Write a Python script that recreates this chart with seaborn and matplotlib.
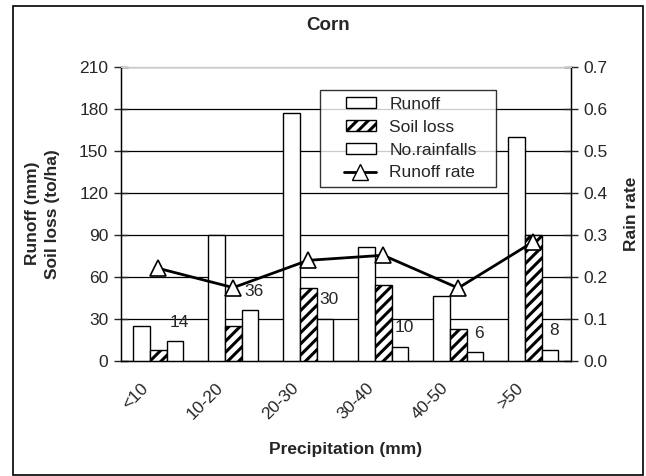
import numpy as np
import pandas as pd
import matplotlib
matplotlib.use("Agg")
import matplotlib.pyplot as plt
import matplotlib.transforms as mtransforms
from matplotlib.patches import Rectangle
from matplotlib.lines import Line2D
from matplotlib.patches import Patch
from matplotlib.legend_handler import HandlerPatch, HandlerLine2D
import seaborn as sns

categories = ["<10", "10-20", "20-30", "30-40", "40-50", ">50"]
runoff = [25, 90, 177, 81, 46, 160]
soil_loss = [8, 25, 52, 54, 23, 90]
rainfalls = [14, 36, 30, 10, 6, 8]
runoff_rate = [0.22, 0.174, 0.239, 0.251, 0.173, 0.283]
series_names = ["Runoff", "Soil loss", "No.rainfalls"]

sns.set_style("white")
plt.rcParams["font.family"] = ["Liberation Sans", "DejaVu Sans"]
plt.rcParams["hatch.linewidth"] = 2.2
plt.rcParams["hatch.color"] = "#262626"

FS = 12.5
HATCH = "///"

df = pd.DataFrame({
    "Precipitation": categories * 3,
    "value": runoff + soil_loss + rainfalls,
    "series": [s for s in series_names for _ in categories],
})

fig = plt.figure(figsize=(6.46, 4.76), dpi=100)
ax = fig.add_axes([120.7 / 646, 1 - 360.7 / 476, (570.7 - 120.7) / 646, (360.7 - 66.7) / 476])

# figure frame
fig.patches.append(Rectangle((13 / 646, 1 - 475 / 476), 630 / 646, 469 / 476,
                             transform=fig.transFigure, fill=False, edgecolor="black",
                             linewidth=1.2, zorder=0))

sns.barplot(data=df, x="Precipitation", y="value", hue="series", order=categories,
            hue_order=series_names, palette=["white"] * 3, edgecolor="black",
            linewidth=1.0, width=0.667, gap=0, ax=ax, legend=False, zorder=3)

n = len(categories)
for i, p in enumerate(ax.patches[:3 * n]):
    if n <= i < 2 * n:
        p.set_hatch(HATCH)

ax.set_ylim(0, 210)
ax.set_yticks(np.arange(0, 211, 30))
ax.set_xlim(-0.5, n - 0.5)
ax.yaxis.grid(True, color="black", linewidth=0.9, zorder=0)
ax.set_axisbelow(True)
for s in ["left", "bottom", "right"]:
    ax.spines[s].set_color("black")
    ax.spines[s].set_linewidth(1.0)
ax.spines["top"].set_color("#c8c8c8")
ax.tick_params(axis="y", direction="inout", length=10, width=1, labelsize=FS, pad=4, left=True)
ax.set_xticks(np.arange(n))
ax.set_xticks(np.arange(-0.5, n, 1), minor=True)
ax.tick_params(axis="x", which="major", length=0, labelsize=FS, pad=18)
ax.tick_params(axis="x", which="minor", direction="out", length=5, width=1)
ax.set_xticklabels(categories, rotation=45, ha="right", va="center", rotation_mode="anchor")
shift = mtransforms.ScaledTranslation(-12 / 100, 0, fig.dpi_scale_trans)
for lab in ax.get_xticklabels():
    lab.set_transform(lab.get_transform() + shift)
ax.set_xlabel("Precipitation (mm)", fontsize=FS, fontweight="bold", labelpad=14)
ax.set_ylabel("Runoff (mm)\nSoil loss (to/ha)", fontsize=FS, fontweight="bold", labelpad=14,
              linespacing=1.35)

# data labels on number of rainfalls
for i, p in enumerate(ax.patches[2 * n:3 * n]):
    ax.annotate(str(rainfalls[i]), (p.get_x() + p.get_width() / 2, p.get_height()),
                xytext=(4, 19), textcoords="offset pixels", ha="center", va="center",
                fontsize=FS, zorder=6)

ax2 = ax.twinx()
ax2.set_position(ax.get_position())
sns.lineplot(x=np.arange(n), y=runoff_rate, ax=ax2, color="black", linewidth=2,
             marker="^", markersize=12, markerfacecolor="white", markeredgecolor="black",
             markeredgewidth=1.2, zorder=5)
ax2.set_ylim(0, 0.7)
ax2.set_yticks(np.arange(0, 0.71, 0.1))
ax2.set_yticklabels([f"{v:.1f}" for v in np.arange(0, 0.71, 0.1)])
ax2.tick_params(axis="y", direction="inout", length=10, width=1, labelsize=FS, pad=4)
ax2.set_ylabel("Rain rate", fontsize=FS, fontweight="bold", labelpad=12)
for s in ["left", "bottom", "right"]:
    ax2.spines[s].set_color("black")
ax2.spines["top"].set_color("#c8c8c8")
ax.set_xlim(-0.5, n - 0.5)

# legend handlers drawing in the right part of the handle box
OFF = 14.0  # points of empty space left of each handle


class ShiftPatch(HandlerPatch):
    def create_artists(self, legend, orig_handle, xdescent, ydescent, width, height,
                       fontsize, trans):
        return super().create_artists(legend, orig_handle, xdescent - OFF, ydescent,
                                      width - OFF, height, fontsize, trans)


class ShiftLine(HandlerLine2D):
    def create_artists(self, legend, orig_handle, xdescent, ydescent, width, height,
                       fontsize, trans):
        return super().create_artists(legend, orig_handle, xdescent - OFF + 2, ydescent,
                                      width - OFF + 2, height, fontsize, trans)


h_run = Patch(facecolor="white", edgecolor="black", linewidth=1.0)
h_soil = Patch(facecolor="white", edgecolor="black", linewidth=1.0, hatch=HATCH)
h_rain = Patch(facecolor="white", edgecolor="black", linewidth=1.0)
h_rate = Line2D([0], [0], color="black", linewidth=2, marker="^", markersize=11,
                markerfacecolor="white", markeredgecolor="black")
hp = ShiftPatch()
leg = ax2.legend([h_run, h_soil, h_rain, h_rate],
                 ["Runoff", "Soil loss", "No.rainfalls", "Runoff rate"],
                 handler_map={h_run: hp, h_soil: hp, h_rain: hp, h_rate: ShiftLine()},
                 loc="upper left",
                 bbox_to_anchor=((320 - 120.7) / 450, (360.7 - 188) / 294, 176 / 450, 98 / 294),
                 mode="expand", borderaxespad=0,
                 frameon=True, fancybox=False, edgecolor="black", fontsize=FS,
                 handlelength=2.8, handleheight=0.6, labelspacing=0.45, borderpad=0.4,
                 handletextpad=0.8)
leg.get_frame().set_linewidth(1.0)
leg.set_zorder(10)

fig.text(328 / 646, 1 - 25 / 476, "Corn", ha="center", va="center", fontsize=13.5, fontweight="bold")

fig.savefig("out.png", dpi=100)
